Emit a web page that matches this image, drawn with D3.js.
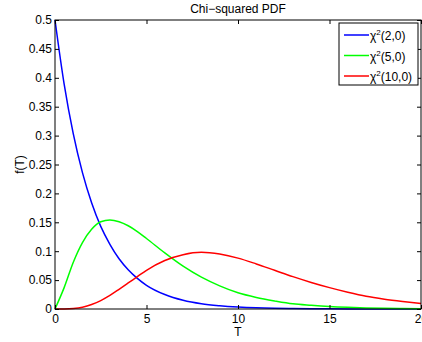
<!DOCTYPE html>
<html>
<head>
  <title>Chi-squared PDF</title>
  <script src="https://d3js.org/d3.v7.min.js"></script>
  <style>
    body { margin: 0; background: #fff; }
    text { font-family: "Liberation Sans", Arial, sans-serif; font-size: 12px; fill: #000; }
    .line { fill: none; stroke-width: 1.5px; }
  </style>
</head>
<body>
  <svg id="chart" width="422" height="342"></svg>
  <script>
    // values
    var tValues = [0, 0.5, 1, 1.5, 2, 2.5, 3, 3.5, 4, 4.5, 5, 6, 7, 8, 9, 10, 11, 12, 13, 14, 15, 16, 17, 18, 19, 20];
    var chi2 = [0.5, 0.389, 0.303, 0.236, 0.184, 0.143, 0.112, 0.087, 0.068, 0.053, 0.041, 0.025, 0.015, 0.009, 0.0056, 0.0034, 0.002, 0.0012, 0.0008, 0.0005, 0.0003, 0.0002, 0.0001, 0.0001, 0.00005, 0.00002];
    var chi5 = [0, 0.037, 0.081, 0.115, 0.138, 0.151, 0.154, 0.151, 0.144, 0.134, 0.122, 0.097, 0.074, 0.055, 0.040, 0.028, 0.020, 0.014, 0.009, 0.0064, 0.0043, 0.0029, 0.0019, 0.0012, 0.0008, 0.0005];
    var chi10 = [0, 0.0001, 0.0008, 0.0031, 0.0077, 0.0146, 0.0235, 0.034, 0.045, 0.056, 0.067, 0.084, 0.094, 0.098, 0.095, 0.088, 0.078, 0.067, 0.056, 0.046, 0.037, 0.029, 0.022, 0.017, 0.013, 0.0095];
    var seriesNames = ["2,0", "5,0", "10,0"];
    var seriesColors = ["#0000ff", "#00ff00", "#ff0000"];
    var xTicks = [0, 5, 10, 15, 20];
    var yTicks = [0, 0.05, 0.1, 0.15, 0.2, 0.25, 0.3, 0.35, 0.4, 0.45, 0.5];

    var margin = { top: 20, right: 1, bottom: 33, left: 55 };
    var width = 422 - margin.left - margin.right;
    var height = 342 - margin.top - margin.bottom;

    var svg = d3.select("#chart");
    var g = svg.append("g")
      .attr("transform", "translate(" + margin.left + "," + margin.top + ")");

    var x = d3.scaleLinear().domain([0, 20]).range([0, width]);
    var y = d3.scaleLinear().domain([0, 0.5]).range([height, 0]);

    var series = [chi2, chi5, chi10];
    var line = d3.line()
      .x(function(d, i) { return x(tValues[i]); })
      .y(function(d) { return y(d); })
      .curve(d3.curveMonotoneX);

    series.forEach(function(s, i) {
      g.append("path")
        .datum(s)
        .attr("class", "line")
        .attr("d", line)
        .style("stroke", seriesColors[i]);
    });

    // box with inward ticks, matlab style
    var tickLen = 4;
    g.append("rect")
      .attr("width", width).attr("height", height)
      .attr("fill", "none").attr("stroke", "#000").attr("stroke-width", 1);

    var xAxis = g.append("g").attr("transform", "translate(0," + height + ")")
      .call(d3.axisBottom(x).tickValues(xTicks).tickSize(-tickLen).tickPadding(4).tickFormat(d3.format("d")));
    g.append("g")
      .call(d3.axisTop(x).tickValues(xTicks).tickSize(-tickLen).tickFormat(""));
    var yAxis = g.append("g")
      .call(d3.axisLeft(y).tickValues(yTicks).tickSize(-tickLen).tickPadding(3).tickFormat(function(d) { return d3.format("~g")(+d.toFixed(2)); }));
    g.append("g").attr("transform", "translate(" + width + ",0)")
      .call(d3.axisRight(y).tickValues(yTicks).tickSize(-tickLen).tickFormat(""));

    g.selectAll(".domain").remove();
    g.selectAll(".tick line").attr("stroke", "#000");
    g.selectAll(".tick text").style("font-size", "12px").attr("font-family", null);
    xAxis.selectAll(".tick text").attr("dy", "0.85em");

    // title and axis labels
    svg.append("text")
      .attr("x", margin.left + width / 2).attr("y", 13)
      .attr("text-anchor", "middle")
      .text("Chi\u2212squared PDF");
    svg.append("text")
      .attr("x", margin.left + width / 2).attr("y", 336)
      .attr("text-anchor", "middle")
      .text("T");
    svg.append("text")
      .attr("transform", "translate(24," + (margin.top + height / 2) + ") rotate(-90)")
      .attr("text-anchor", "middle")
      .text("f(T)");

    // legend
    var legend = svg.append("g").attr("transform", "translate(339,23)");
    legend.append("rect")
      .attr("width", 79).attr("height", 62)
      .attr("fill", "#fff").attr("stroke", "#000").attr("stroke-width", 1);
    seriesNames.forEach(function(name, i) {
      var row = legend.append("g").attr("transform", "translate(0," + (12 + i * 20.5) + ")");
      row.append("line")
        .attr("x1", 5).attr("x2", 30).attr("y1", 0).attr("y2", 0)
        .attr("stroke", seriesColors[i]).attr("stroke-width", 1.5);
      var t = row.append("text").attr("x", 31).attr("y", 5);
      t.append("tspan").text("\u03c7");
      t.append("tspan").attr("dy", -5).style("font-size", "8px").text("2");
      t.append("tspan").attr("dy", 5).text("(" + name + ")");
    });
  </script>
</body>
</html>
